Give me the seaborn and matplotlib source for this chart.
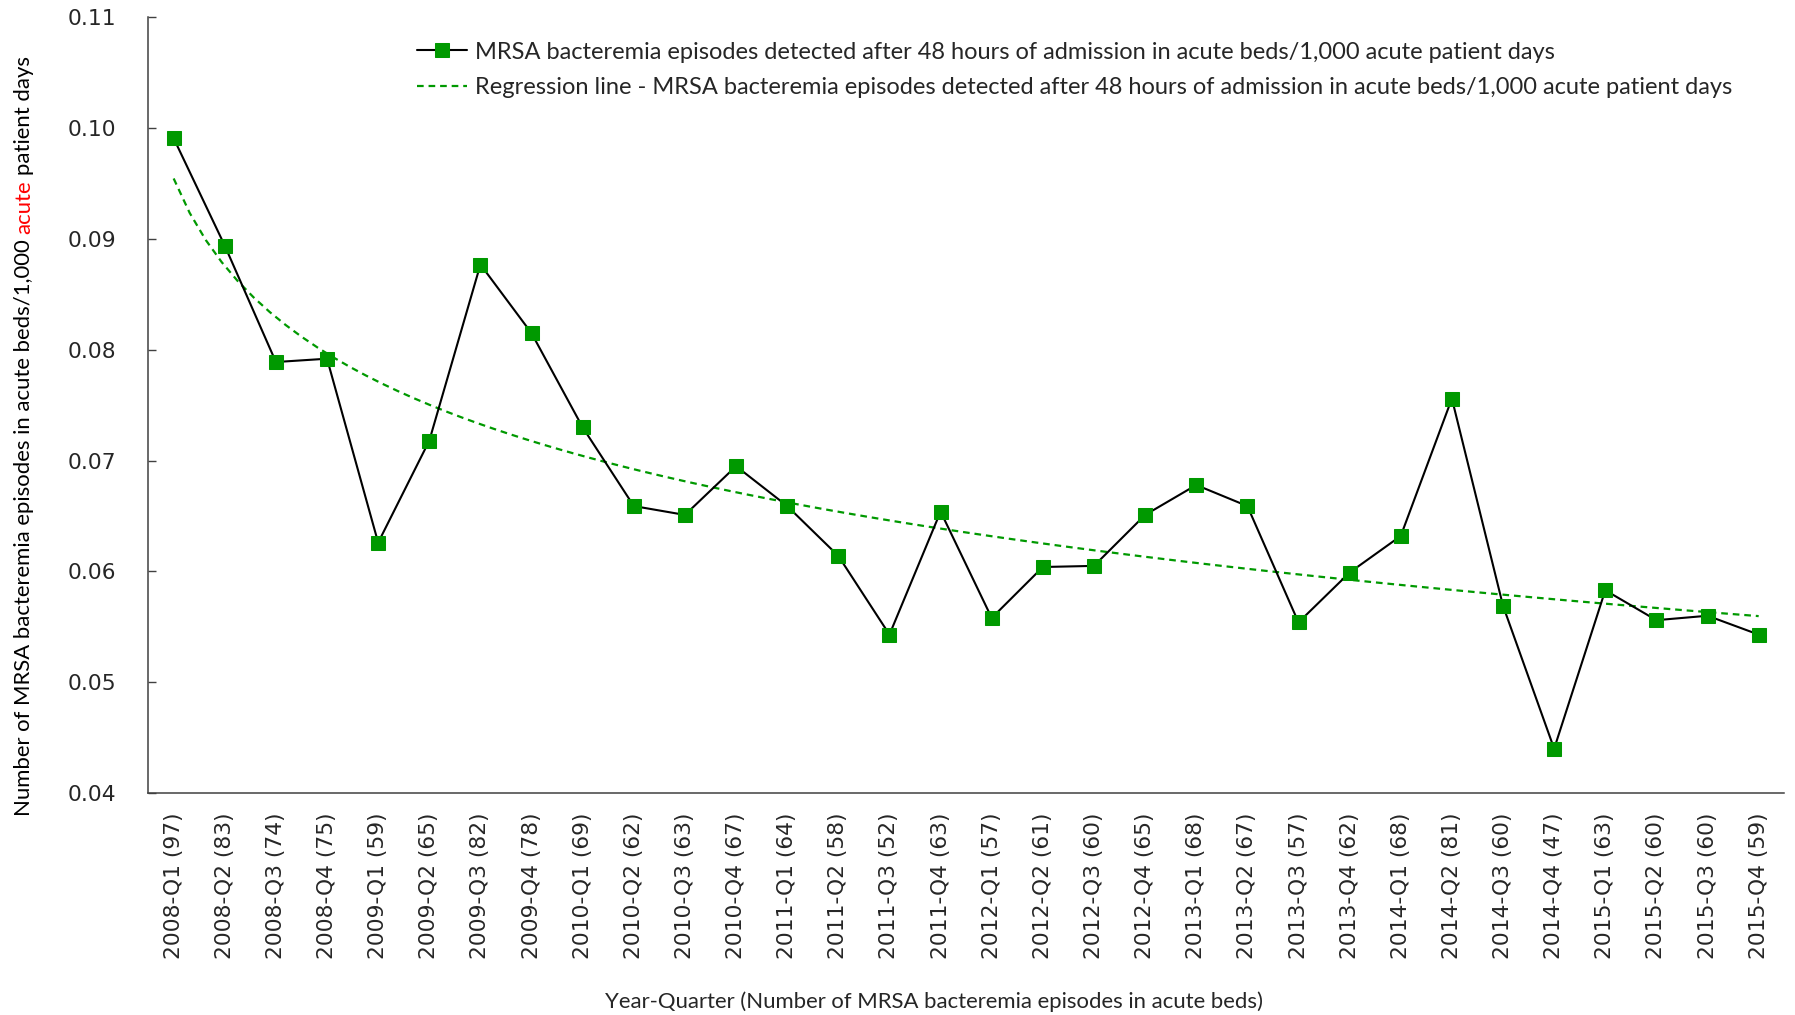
import numpy as np
import pandas as pd
import seaborn as sns
import matplotlib.pyplot as plt
from matplotlib.ticker import FormatStrFormatter

# ===== DATA =====
quarters = ["2008-Q1", "2008-Q2", "2008-Q3", "2008-Q4",
            "2009-Q1", "2009-Q2", "2009-Q3", "2009-Q4",
            "2010-Q1", "2010-Q2", "2010-Q3", "2010-Q4",
            "2011-Q1", "2011-Q2", "2011-Q3", "2011-Q4",
            "2012-Q1", "2012-Q2", "2012-Q3", "2012-Q4",
            "2013-Q1", "2013-Q2", "2013-Q3", "2013-Q4",
            "2014-Q1", "2014-Q2", "2014-Q3", "2014-Q4",
            "2015-Q1", "2015-Q2", "2015-Q3", "2015-Q4"]
episodes = [97, 83, 74, 75, 59, 65, 82, 78, 69, 62, 63, 67, 64, 58, 52, 63,
            57, 61, 60, 65, 68, 67, 57, 62, 68, 81, 60, 47, 63, 60, 60, 59]
rate = [0.0991, 0.0894, 0.0789, 0.0792, 0.0626, 0.0718, 0.0877, 0.0815,
        0.0730, 0.0659, 0.0651, 0.0695, 0.0659, 0.0614, 0.0543, 0.0654,
        0.0558, 0.0604, 0.0605, 0.0651, 0.0678, 0.0659, 0.0554, 0.0599,
        0.0632, 0.0756, 0.0569, 0.0440, 0.0583, 0.0556, 0.0560, 0.0543]
yticks = [0.04, 0.05, 0.06, 0.07, 0.08, 0.09, 0.10, 0.11]

series_label = ("MRSA bacteremia episodes detected after 48 hours of admission "
                "in acute beds/1,000 acute patient days")
trend_label = "Regression line - " + series_label

tick_labels = [f"{q} ({n})" for q, n in zip(quarters, episodes)]
df = pd.DataFrame({"pos": np.arange(1, len(quarters) + 1), "rate": rate})

# ===== STYLE =====
sns.set_style("white")
plt.rcParams["font.family"] = ["DejaVu Sans"]
label_font = "Lato"
title_size = 15.9
green = "#009900"

fig = plt.figure(figsize=(17.95, 10.15), dpi=100)
ax = fig.add_axes([0.0825, 0.2187, 0.9115, 0.7641])

# logarithmic trend line (like Excel's log trendline)
sns.regplot(data=df, x="pos", y="rate", logx=True, ci=None, scatter=False,
            line_kws=dict(color=green, ls=(0, (3, 2.2)), lw=1.6), ax=ax)
sns.lineplot(data=df, x="pos", y="rate", color="black", lw=1.5,
             marker="s", markersize=10, markerfacecolor=green,
             markeredgecolor=green, ax=ax)

ax.set_xlim(0.5, len(quarters) + 0.5)
ax.set_ylim(0.04, 0.11)
ax.set_yticks(yticks)
ax.yaxis.set_major_formatter(FormatStrFormatter("%.2f"))
ax.set_xticks(df["pos"])
ax.set_xticklabels(tick_labels, rotation=90)
ax.set_xticks(np.arange(0.5, len(quarters) + 1), minor=True)
ax.tick_params(axis="x", which="major", length=0, pad=14, labelsize=15.7)
ax.tick_params(axis="x", which="minor", direction="in", length=6.5,
               width=1, color="#404040")
ax.tick_params(axis="y", direction="in", length=6, width=1, color="#404040",
               pad=23, labelsize=15.7, left=True)
ax.set_xlabel("")
ax.set_ylabel("")
sns.despine(ax=ax)
for side in ["left", "bottom"]:
    ax.spines[side].set_color("#404040")
    ax.spines[side].set_linewidth(1.1)

# legend
h_line = ax.lines[1]
h_trend = ax.lines[0]
ax.legend([h_line, h_trend], [series_label, trend_label],
          loc="upper left", bbox_to_anchor=(0.2323, 0.959),
          bbox_transform=fig.transFigure, frameon=False, borderpad=0,
          borderaxespad=0, handlelength=2.1, handletextpad=0.35,
          labelspacing=0.62, prop=dict(family=label_font, size=17))

# x axis title
fig.text(934 / 1795, 0.0128, "Year-Quarter (Number of MRSA bacteremia episodes in acute beds)",
         ha="center", va="center", family=label_font, size=title_size)

# y axis title with one word in red, built piece by piece
renderer = fig.canvas.get_renderer()
parts = [("Number of MRSA bacteremia episodes in acute beds/1,000", "black"),
         ("acute", "red"),
         ("patient days", "black")]
fig_h = fig.get_size_inches()[1] * fig.dpi


def text_len(s):
    t = fig.text(0, 0, s, family=label_font, size=title_size)
    w = t.get_window_extent(renderer).width
    t.remove()
    return w


space = text_len("a a") - text_len("aa")
lengths = [text_len(s) for s, _ in parts]
total = sum(lengths) + space * (len(parts) - 1)
y_px = 0.5704 * fig_h - total / 2
for (s, c), w in zip(parts, lengths):
    fig.text(30 / 1795, y_px / fig_h, s, rotation=90, rotation_mode="anchor",
             ha="left", va="baseline", color=c, family=label_font,
             size=title_size)
    y_px += w + space

fig.savefig("out.png", dpi=100)
